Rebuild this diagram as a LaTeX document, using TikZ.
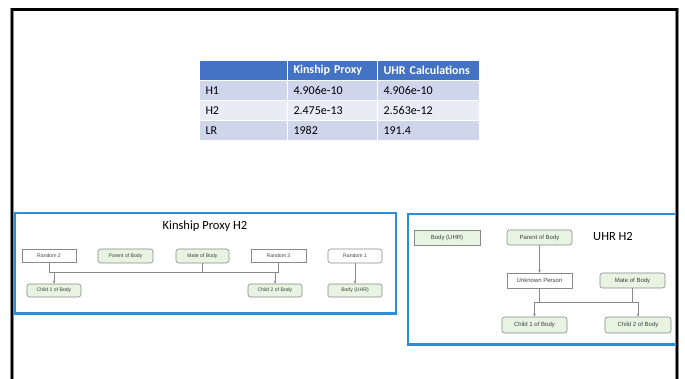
\documentclass[tikz,border=0pt]{standalone}
\usepackage{fontspec}
\setmainfont{Carlito}
\newfontfamily\arialf{Liberation Sans}
\usetikzlibrary{arrows.meta}
\definecolor{hdr}{HTML}{4472C4}
\definecolor{rowa}{HTML}{CFD5EA}
\definecolor{rowb}{HTML}{E9EBF5}
\definecolor{frameblue}{HTML}{2A8FD8}
\definecolor{boxgreen}{HTML}{E6F4E1}
\definecolor{boxline}{HTML}{8A8A8A}
\definecolor{conncol}{HTML}{8A8A8A}
\begin{document}
\begin{tikzpicture}[x=1pt,y=-1pt,
  cell/.style={anchor=north west, minimum height=20pt, inner xsep=6pt, inner ysep=0pt,
    align=left, draw=white, line width=1pt, font=\fontsize{12}{14}\selectfont},
  hcell/.style={cell, fill=hdr, text=white, font=\bfseries\fontsize{12}{14}\selectfont},
  acell/.style={cell, fill=rowa},
  bcell/.style={cell, fill=rowb},
  plainbox/.style={draw=boxline, fill=white, line width=0.6pt, inner sep=0pt, text=black!75},
  smallf/.style={font=\arialf\fontsize{5.1}{6}\selectfont},
  bigf/.style={font=\arialf\fontsize{6}{7}\selectfont},
  greenbox/.style={plainbox, fill=boxgreen},
  rnd/.style={rounded corners=2.5pt},
  conn/.style={draw=conncol, line width=0.7pt},
  arr/.style={conn, -{Stealth[length=3pt,width=2.6pt]}},
  title/.style={font=\fontsize{12.5}{14}\selectfont, inner sep=0pt}
]
\useasboundingbox (0,0) rectangle (685,379);
\fill[white] (0,0) rectangle (685,379);

% table
\node[hcell, text width=76pt] (h0) at (199,60) {\strut};
\node[hcell, text width=78pt] (h1) at (287,60) {Kinship Proxy};
\node[hcell, text width=90pt] (h2) at (377,60) {UHR Calculations};
\node[acell, text width=76pt] (a0) at (199,80) {H1};
\node[acell, text width=78pt] (a1) at (287,80) {4.906e-10};
\node[acell, text width=90pt] (a2) at (377,80) {4.906e-10};
\node[bcell, text width=76pt] (b0) at (199,100) {H2};
\node[bcell, text width=78pt] (b1) at (287,100) {2.475e-13};
\node[bcell, text width=90pt] (b2) at (377,100) {2.563e-12};
\node[acell, text width=76pt] (c0) at (199,120) {LR};
\node[acell, text width=78pt] (c1t) at (287,120) {1982};
\node[acell, text width=90pt] (c2t) at (377,120) {191.4};

% blue frames
\draw[frameblue, line width=2.4pt] (14.5,213) rectangle (396,313.5);
\draw[frameblue, line width=2.4pt] (408,214) rectangle (677,344.5);

% outer frame
\draw[black!45, line width=3.6pt] (12,380) -- (12,9.5) -- (677,9.5) -- (677,380);
\draw[black, line width=2.4pt] (12,380) -- (12,9.5) -- (677,9.5) -- (677,380);

% titles
\node[title] (t1) at (205,226) {Kinship Proxy H2};
\node[title] (t2) at (613,236) {UHR H2};

% left diagram
\node[plainbox, smallf, minimum width=54pt, minimum height=13pt] (r2) at (49,255.5) {Random 2};
\node[greenbox, rnd, smallf, minimum width=55pt, minimum height=14pt] (pob) at (125.5,256) {Parent of Body};
\node[greenbox, rnd, smallf, minimum width=53pt, minimum height=14pt] (mob) at (202.5,256) {Mate of Body};
\node[plainbox, smallf, minimum width=55pt, minimum height=13pt] (r3) at (278.5,255.5) {Random 3};
\node[plainbox, rnd, smallf, minimum width=54pt, minimum height=14pt] (r1) at (355,256) {Random 1};
\node[greenbox, rnd, smallf, minimum width=54pt, minimum height=13pt] (c1) at (54,290.5) {Child 1 of Body};
\node[greenbox, rnd, smallf, minimum width=54pt, minimum height=13pt] (c2) at (275,290.5) {Child 2 of Body};
\node[greenbox, rounded corners=1.5pt, smallf, minimum width=54pt, minimum height=13pt] (bu) at (355,290.5) {Body (UHR)};
\coordinate (busL) at (0,272);
\draw[conn] (r2.south) -- (r2.south |- busL) -- (r3.south |- busL) -- (r3.south);
\draw[conn] (mob.south) -- (mob.south |- busL);
\draw[arr] (c1.north |- busL) -- (c1.north);
\draw[arr] (c2.north |- busL) -- (c2.north);
\draw[arr] (r1.south) -- (bu.north);

% right diagram
\node[greenbox, bigf, minimum width=66pt, minimum height=15pt] (bu2) at (447,237.5) {Body (UHR)};
\node[greenbox, rnd, bigf, minimum width=65pt, minimum height=15pt] (pob2) at (539.5,237.5) {Parent of Body};
\node[plainbox, bigf, minimum width=65pt, minimum height=15pt] (up) at (539.5,280.5) {Unknown Person};
\node[greenbox, rnd, bigf, minimum width=65pt, minimum height=15pt] (mob2) at (632.5,280.5) {Mate of Body};
\node[greenbox, rnd, bigf, minimum width=65pt, minimum height=16pt] (c1b) at (534.5,325) {Child 1 of Body};
\node[greenbox, rnd, bigf, minimum width=66pt, minimum height=16pt] (c2b) at (638,325) {Child 2 of Body};
\coordinate (busR) at (0,302);
\draw[arr] (pob2.south) -- (up.north);
\draw[conn] (up.south) -- (up.south |- busR);
\draw[conn] (mob2.south) -- (mob2.south |- busR);
\draw[conn] (c1b.north |- busR) -- (c2b.north |- busR);
\draw[arr] (c1b.north |- busR) -- (c1b.north);
\draw[arr] (c2b.north |- busR) -- (c2b.north);
\end{tikzpicture}
\end{document}
